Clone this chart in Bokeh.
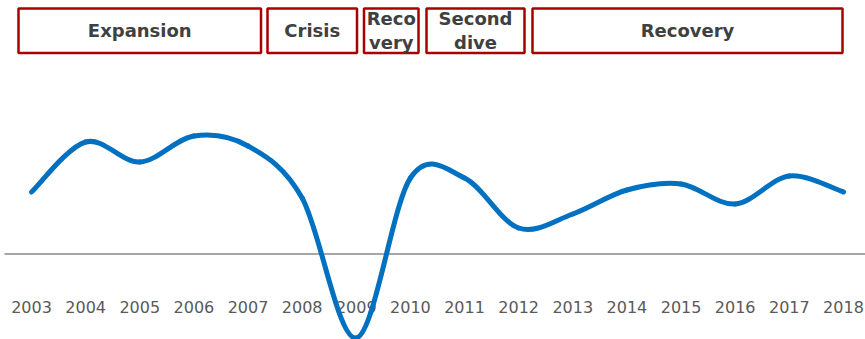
from bokeh.plotting import figure
from bokeh.models import Range1d, ColumnDataSource
from bokeh.core.properties import value
from bokeh.embed import file_html
from bokeh.resources import INLINE

# Annual growth (%) and the phases of the cycle
years = [2003, 2004, 2005, 2006, 2007, 2008, 2009, 2010,
         2011, 2012, 2013, 2014, 2015, 2016, 2017, 2018]
growth = [3.1, 5.6, 4.6, 5.9, 5.4, 2.8, -4.2, 3.8,
          3.8, 1.3, 2.0, 3.2, 3.5, 2.5, 3.9, 3.1]
year_labels = [str(y) for y in years]
phase_names = ["Expansion", "Crisis", "Reco\nvery", "Second\ndive", "Recovery"]

# Canvas geometry
W, H = 865, 339
PX_PER_YEAR = 54.13
FIRST_YEAR_PX = 31.0
ZERO_PX = 253.5
PX_PER_UNIT = 20.0

X0 = years[0] - FIRST_YEAR_PX / PX_PER_YEAR
X1 = X0 + W / PX_PER_YEAR
Y1 = ZERO_PX / PX_PER_UNIT
Y0 = Y1 - H / PX_PER_UNIT


def px_to_x(px):
    return X0 + px / PX_PER_YEAR


def px_to_y(py):
    return Y1 - py / PX_PER_UNIT


p = figure(width=W, height=H, output_backend="svg", toolbar_location=None,
           x_range=Range1d(X0, X1), y_range=Range1d(Y0, Y1),
           min_border=0, x_axis_location=None, y_axis_location=None)
p.grid.visible = False
p.outline_line_color = None
p.background_fill_color = "white"
p.border_fill_color = "white"

# Phase header boxes (pixel layout)
box_left_px = [18, 267, 363.5, 426, 532]
box_right_px = [260.5, 356.5, 418, 524, 842]
box_top_px, box_bottom_px = 8, 52.5
boxes = ColumnDataSource(dict(
    left=[px_to_x(v) for v in box_left_px],
    right=[px_to_x(v) for v in box_right_px],
    top=[px_to_y(box_top_px)] * len(phase_names),
    bottom=[px_to_y(box_bottom_px)] * len(phase_names),
    cx=[px_to_x((a + b) / 2) for a, b in zip(box_left_px, box_right_px)],
    cy=[px_to_y((box_top_px + box_bottom_px) / 2)] * len(phase_names),
    name=phase_names,
))
p.quad(left="left", right="right", top="top", bottom="bottom", source=boxes,
       fill_color="white", line_color="#A80000", line_width=2.5)
p.text(x="cx", y="cy", text="name", source=boxes,
       text_font=value("DejaVu Sans"), text_font_style="bold",
       text_font_size="18px", text_color="#404040",
       text_align="center", text_baseline="middle", text_line_height=1.15)

# Zero line
p.segment(x0=[px_to_x(4)], y0=[0], x1=[X1], y1=[0],
          line_color="#A6A6A6", line_width=2)

# Year labels below the zero line
label_y = px_to_y(306)
p.text(x=years, y=[label_y] * len(years), text=year_labels,
       text_font=value("DejaVu Sans"), text_font_size="16px",
       text_color="#595959", text_align="center", text_baseline="middle")

# Smoothed growth line: cubic Bezier segments through every point
n = len(years)
seg = dict(x0=[], y0=[], x1=[], y1=[], cx0=[], cy0=[], cx1=[], cy1=[])
for i in range(n - 1):
    xa, ya = years[i], growth[i]
    xb, yb = years[i + 1], growth[i + 1]
    xp, yp = (years[i - 1], growth[i - 1]) if i > 0 else (xa, ya)
    xn, yn = (years[i + 2], growth[i + 2]) if i + 2 < n else (xb, yb)
    seg["x0"].append(xa); seg["y0"].append(ya)
    seg["x1"].append(xb); seg["y1"].append(yb)
    seg["cx0"].append(xa + (xb - xp) / 6); seg["cy0"].append(ya + (yb - yp) / 6)
    seg["cx1"].append(xb - (xn - xa) / 6); seg["cy1"].append(yb - (yn - ya) / 6)
p.bezier(x0="x0", y0="y0", x1="x1", y1="y1", cx0="cx0", cy0="cy0",
         cx1="cx1", cy1="cy1", source=ColumnDataSource(seg),
         line_color="#0070C0", line_width=5, line_cap="round")

open("out.html", "w").write(file_html(p, INLINE))
